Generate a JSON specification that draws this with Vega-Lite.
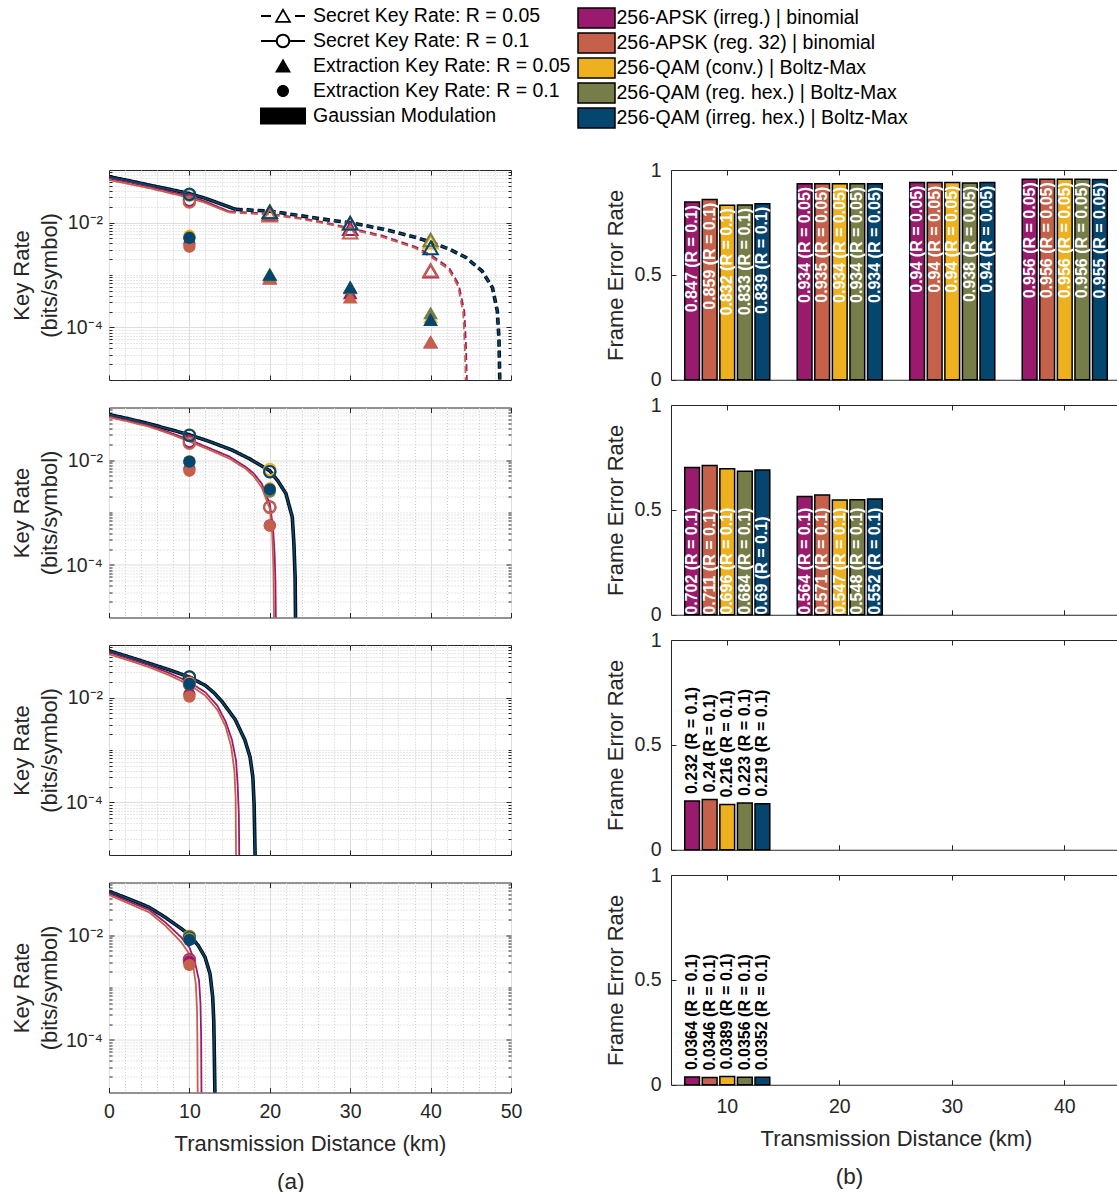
{
  "$schema": "https://vega.github.io/schema/vega-lite/v6.json",
  "background": "white",
  "padding": {"left": 9, "top": 5, "right": 0, "bottom": 0},
  "config": {
    "font": "Liberation Sans",
    "view": {"stroke": "#262626", "strokeWidth": 1},
    "axis": {"domain": false, "grid": false, "labelFont": "Liberation Sans", "labelFontSize": 19.5, "labelColor": "#262626", "titleFont": "Liberation Sans", "titleFontSize": 22, "titleFontWeight": "normal", "titleColor": "#262626", "tickColor": "#262626", "labelFlush": false, "labelOverlap": false},
    "legend": {"labelFont": "Liberation Sans", "labelFontSize": 19.5, "labelColor": "#000000", "labelLimit": 0, "padding": 0},
    "title": {"font": "Liberation Sans", "fontSize": 22.5, "fontWeight": "normal", "color": "#262626"}
  },
  "datasets": {
    "curves": [
      {"p":1,"m":"256-APSK (irreg.) | binomial","s":"solid","d":0,"v":0.069},
      {"p":1,"m":"256-APSK (irreg.) | binomial","s":"solid","d":2.5,"v":0.058},
      {"p":1,"m":"256-APSK (irreg.) | binomial","s":"solid","d":5,"v":0.048},
      {"p":1,"m":"256-APSK (irreg.) | binomial","s":"solid","d":7.5,"v":0.039},
      {"p":1,"m":"256-APSK (irreg.) | binomial","s":"solid","d":10,"v":0.0316},
      {"p":1,"m":"256-APSK (irreg.) | binomial","s":"solid","d":12,"v":0.0252},
      {"p":1,"m":"256-APSK (irreg.) | binomial","s":"solid","d":14.9,"v":0.0163},
      {"p":1,"m":"256-APSK (irreg.) | binomial","s":"dashed","d":14.9,"v":0.0163},
      {"p":1,"m":"256-APSK (irreg.) | binomial","s":"dashed","d":17.5,"v":0.0155},
      {"p":1,"m":"256-APSK (irreg.) | binomial","s":"dashed","d":20,"v":0.0147},
      {"p":1,"m":"256-APSK (irreg.) | binomial","s":"dashed","d":23.6,"v":0.0123},
      {"p":1,"m":"256-APSK (irreg.) | binomial","s":"dashed","d":27,"v":0.0099},
      {"p":1,"m":"256-APSK (irreg.) | binomial","s":"dashed","d":30.1,"v":0.00778},
      {"p":1,"m":"256-APSK (irreg.) | binomial","s":"dashed","d":34,"v":0.00562},
      {"p":1,"m":"256-APSK (irreg.) | binomial","s":"dashed","d":38.1,"v":0.00345},
      {"p":1,"m":"256-APSK (irreg.) | binomial","s":"dashed","d":40.2,"v":0.00232},
      {"p":1,"m":"256-APSK (irreg.) | binomial","s":"dashed","d":42.3,"v":0.00138},
      {"p":1,"m":"256-APSK (irreg.) | binomial","s":"dashed","d":43.5,"v":0.00066},
      {"p":1,"m":"256-APSK (irreg.) | binomial","s":"dashed","d":44.2,"v":0.000203},
      {"p":1,"m":"256-APSK (irreg.) | binomial","s":"dashed","d":44.4,"v":0.000047},
      {"p":1,"m":"256-APSK (irreg.) | binomial","s":"dashed","d":44.5,"v":0.0000123},
      {"p":1,"m":"256-APSK (irreg.) | binomial","s":"dashed","d":44.55,"v":0.000001},
      {"p":1,"m":"256-APSK (reg. 32) | binomial","s":"solid","d":0,"v":0.0643},
      {"p":1,"m":"256-APSK (reg. 32) | binomial","s":"solid","d":2.5,"v":0.054},
      {"p":1,"m":"256-APSK (reg. 32) | binomial","s":"solid","d":5,"v":0.045},
      {"p":1,"m":"256-APSK (reg. 32) | binomial","s":"solid","d":7.5,"v":0.0365},
      {"p":1,"m":"256-APSK (reg. 32) | binomial","s":"solid","d":10,"v":0.0294},
      {"p":1,"m":"256-APSK (reg. 32) | binomial","s":"solid","d":12,"v":0.0236},
      {"p":1,"m":"256-APSK (reg. 32) | binomial","s":"solid","d":14.9,"v":0.0156},
      {"p":1,"m":"256-APSK (reg. 32) | binomial","s":"dashed","d":14.9,"v":0.0156},
      {"p":1,"m":"256-APSK (reg. 32) | binomial","s":"dashed","d":17.5,"v":0.0148},
      {"p":1,"m":"256-APSK (reg. 32) | binomial","s":"dashed","d":20,"v":0.0141},
      {"p":1,"m":"256-APSK (reg. 32) | binomial","s":"dashed","d":23.6,"v":0.0118},
      {"p":1,"m":"256-APSK (reg. 32) | binomial","s":"dashed","d":27,"v":0.0095},
      {"p":1,"m":"256-APSK (reg. 32) | binomial","s":"dashed","d":30.1,"v":0.0074},
      {"p":1,"m":"256-APSK (reg. 32) | binomial","s":"dashed","d":34,"v":0.0053},
      {"p":1,"m":"256-APSK (reg. 32) | binomial","s":"dashed","d":38.1,"v":0.00325},
      {"p":1,"m":"256-APSK (reg. 32) | binomial","s":"dashed","d":40.1,"v":0.00218},
      {"p":1,"m":"256-APSK (reg. 32) | binomial","s":"dashed","d":42.2,"v":0.0013},
      {"p":1,"m":"256-APSK (reg. 32) | binomial","s":"dashed","d":43.4,"v":0.00062},
      {"p":1,"m":"256-APSK (reg. 32) | binomial","s":"dashed","d":44.05,"v":0.00019},
      {"p":1,"m":"256-APSK (reg. 32) | binomial","s":"dashed","d":44.25,"v":0.000045},
      {"p":1,"m":"256-APSK (reg. 32) | binomial","s":"dashed","d":44.35,"v":0.000012},
      {"p":1,"m":"256-APSK (reg. 32) | binomial","s":"dashed","d":44.4,"v":0.000001},
      {"p":1,"m":"256-QAM (irreg. hex.) | Boltz-Max","s":"solid","d":0,"v":0.0745},
      {"p":1,"m":"256-QAM (irreg. hex.) | Boltz-Max","s":"solid","d":2.5,"v":0.0625},
      {"p":1,"m":"256-QAM (irreg. hex.) | Boltz-Max","s":"solid","d":5,"v":0.0515},
      {"p":1,"m":"256-QAM (irreg. hex.) | Boltz-Max","s":"solid","d":7.5,"v":0.043},
      {"p":1,"m":"256-QAM (irreg. hex.) | Boltz-Max","s":"solid","d":10,"v":0.0355},
      {"p":1,"m":"256-QAM (irreg. hex.) | Boltz-Max","s":"solid","d":12,"v":0.0288},
      {"p":1,"m":"256-QAM (irreg. hex.) | Boltz-Max","s":"solid","d":14,"v":0.0223},
      {"p":1,"m":"256-QAM (irreg. hex.) | Boltz-Max","s":"solid","d":15.75,"v":0.0178},
      {"p":1,"m":"256-QAM (irreg. hex.) | Boltz-Max","s":"dashed","d":15.75,"v":0.0178},
      {"p":1,"m":"256-QAM (irreg. hex.) | Boltz-Max","s":"dashed","d":20,"v":0.0165},
      {"p":1,"m":"256-QAM (irreg. hex.) | Boltz-Max","s":"dashed","d":23.6,"v":0.0136},
      {"p":1,"m":"256-QAM (irreg. hex.) | Boltz-Max","s":"dashed","d":27.8,"v":0.0109},
      {"p":1,"m":"256-QAM (irreg. hex.) | Boltz-Max","s":"dashed","d":30.1,"v":0.00986},
      {"p":1,"m":"256-QAM (irreg. hex.) | Boltz-Max","s":"dashed","d":34,"v":0.00755},
      {"p":1,"m":"256-QAM (irreg. hex.) | Boltz-Max","s":"dashed","d":38.1,"v":0.00524},
      {"p":1,"m":"256-QAM (irreg. hex.) | Boltz-Max","s":"dashed","d":40.1,"v":0.00419},
      {"p":1,"m":"256-QAM (irreg. hex.) | Boltz-Max","s":"dashed","d":42.3,"v":0.00312},
      {"p":1,"m":"256-QAM (irreg. hex.) | Boltz-Max","s":"dashed","d":44.4,"v":0.00216},
      {"p":1,"m":"256-QAM (irreg. hex.) | Boltz-Max","s":"dashed","d":46.4,"v":0.00119},
      {"p":1,"m":"256-QAM (irreg. hex.) | Boltz-Max","s":"dashed","d":47.7,"v":0.00057},
      {"p":1,"m":"256-QAM (irreg. hex.) | Boltz-Max","s":"dashed","d":48.3,"v":0.000204},
      {"p":1,"m":"256-QAM (irreg. hex.) | Boltz-Max","s":"dashed","d":48.5,"v":0.000062},
      {"p":1,"m":"256-QAM (irreg. hex.) | Boltz-Max","s":"dashed","d":48.6,"v":0.0000107},
      {"p":1,"m":"256-QAM (irreg. hex.) | Boltz-Max","s":"dashed","d":48.65,"v":0.000001},
      {"p":1,"m":"Gaussian Modulation","s":"solid","d":0,"v":0.0745},
      {"p":1,"m":"Gaussian Modulation","s":"solid","d":2.5,"v":0.0625},
      {"p":1,"m":"Gaussian Modulation","s":"solid","d":5,"v":0.0515},
      {"p":1,"m":"Gaussian Modulation","s":"solid","d":7.5,"v":0.043},
      {"p":1,"m":"Gaussian Modulation","s":"solid","d":10,"v":0.0355},
      {"p":1,"m":"Gaussian Modulation","s":"solid","d":12,"v":0.0288},
      {"p":1,"m":"Gaussian Modulation","s":"solid","d":14,"v":0.0223},
      {"p":1,"m":"Gaussian Modulation","s":"solid","d":15.75,"v":0.0178},
      {"p":1,"m":"Gaussian Modulation","s":"dashed","d":15.75,"v":0.0178},
      {"p":1,"m":"Gaussian Modulation","s":"dashed","d":20,"v":0.0165},
      {"p":1,"m":"Gaussian Modulation","s":"dashed","d":23.6,"v":0.0136},
      {"p":1,"m":"Gaussian Modulation","s":"dashed","d":27.8,"v":0.0109},
      {"p":1,"m":"Gaussian Modulation","s":"dashed","d":30.1,"v":0.00986},
      {"p":1,"m":"Gaussian Modulation","s":"dashed","d":34,"v":0.00755},
      {"p":1,"m":"Gaussian Modulation","s":"dashed","d":38.1,"v":0.00524},
      {"p":1,"m":"Gaussian Modulation","s":"dashed","d":40.1,"v":0.00419},
      {"p":1,"m":"Gaussian Modulation","s":"dashed","d":42.3,"v":0.00312},
      {"p":1,"m":"Gaussian Modulation","s":"dashed","d":44.4,"v":0.00216},
      {"p":1,"m":"Gaussian Modulation","s":"dashed","d":46.4,"v":0.00119},
      {"p":1,"m":"Gaussian Modulation","s":"dashed","d":47.7,"v":0.00057},
      {"p":1,"m":"Gaussian Modulation","s":"dashed","d":48.3,"v":0.000204},
      {"p":1,"m":"Gaussian Modulation","s":"dashed","d":48.5,"v":0.000062},
      {"p":1,"m":"Gaussian Modulation","s":"dashed","d":48.6,"v":0.0000107},
      {"p":1,"m":"Gaussian Modulation","s":"dashed","d":48.65,"v":0.000001},

      {"p":2,"m":"256-APSK (irreg.) | binomial","s":"solid","d":0,"v":0.068},
      {"p":2,"m":"256-APSK (irreg.) | binomial","s":"solid","d":2.5,"v":0.056},
      {"p":2,"m":"256-APSK (irreg.) | binomial","s":"solid","d":5,"v":0.045},
      {"p":2,"m":"256-APSK (irreg.) | binomial","s":"solid","d":7.5,"v":0.0336},
      {"p":2,"m":"256-APSK (irreg.) | binomial","s":"solid","d":10,"v":0.0243},
      {"p":2,"m":"256-APSK (irreg.) | binomial","s":"solid","d":12.5,"v":0.0168},
      {"p":2,"m":"256-APSK (irreg.) | binomial","s":"solid","d":15,"v":0.0116},
      {"p":2,"m":"256-APSK (irreg.) | binomial","s":"solid","d":17,"v":0.0074},
      {"p":2,"m":"256-APSK (irreg.) | binomial","s":"solid","d":18,"v":0.00555},
      {"p":2,"m":"256-APSK (irreg.) | binomial","s":"solid","d":19,"v":0.00356},
      {"p":2,"m":"256-APSK (irreg.) | binomial","s":"solid","d":20,"v":0.00147},
      {"p":2,"m":"256-APSK (irreg.) | binomial","s":"solid","d":20.4,"v":0.00052},
      {"p":2,"m":"256-APSK (irreg.) | binomial","s":"solid","d":20.6,"v":0.00016},
      {"p":2,"m":"256-APSK (irreg.) | binomial","s":"solid","d":20.7,"v":0.000049},
      {"p":2,"m":"256-APSK (irreg.) | binomial","s":"solid","d":20.75,"v":0.00001},
      {"p":2,"m":"256-APSK (irreg.) | binomial","s":"solid","d":20.77,"v":0.000001},
      {"p":2,"m":"256-APSK (reg. 32) | binomial","s":"solid","d":0,"v":0.065},
      {"p":2,"m":"256-APSK (reg. 32) | binomial","s":"solid","d":2.5,"v":0.0535},
      {"p":2,"m":"256-APSK (reg. 32) | binomial","s":"solid","d":5,"v":0.043},
      {"p":2,"m":"256-APSK (reg. 32) | binomial","s":"solid","d":7.5,"v":0.0318},
      {"p":2,"m":"256-APSK (reg. 32) | binomial","s":"solid","d":10,"v":0.0225},
      {"p":2,"m":"256-APSK (reg. 32) | binomial","s":"solid","d":12.5,"v":0.0156},
      {"p":2,"m":"256-APSK (reg. 32) | binomial","s":"solid","d":15,"v":0.0106},
      {"p":2,"m":"256-APSK (reg. 32) | binomial","s":"solid","d":17,"v":0.0068},
      {"p":2,"m":"256-APSK (reg. 32) | binomial","s":"solid","d":18,"v":0.0049},
      {"p":2,"m":"256-APSK (reg. 32) | binomial","s":"solid","d":19,"v":0.003},
      {"p":2,"m":"256-APSK (reg. 32) | binomial","s":"solid","d":20,"v":0.00118},
      {"p":2,"m":"256-APSK (reg. 32) | binomial","s":"solid","d":20.3,"v":0.00039},
      {"p":2,"m":"256-APSK (reg. 32) | binomial","s":"solid","d":20.45,"v":0.000089},
      {"p":2,"m":"256-APSK (reg. 32) | binomial","s":"solid","d":20.52,"v":0.00001},
      {"p":2,"m":"256-APSK (reg. 32) | binomial","s":"solid","d":20.54,"v":0.000001},
      {"p":2,"m":"256-QAM (irreg. hex.) | Boltz-Max","s":"solid","d":0,"v":0.0733},
      {"p":2,"m":"256-QAM (irreg. hex.) | Boltz-Max","s":"solid","d":2.5,"v":0.0607},
      {"p":2,"m":"256-QAM (irreg. hex.) | Boltz-Max","s":"solid","d":5,"v":0.049},
      {"p":2,"m":"256-QAM (irreg. hex.) | Boltz-Max","s":"solid","d":7.5,"v":0.0385},
      {"p":2,"m":"256-QAM (irreg. hex.) | Boltz-Max","s":"solid","d":10,"v":0.0302},
      {"p":2,"m":"256-QAM (irreg. hex.) | Boltz-Max","s":"solid","d":12.5,"v":0.0225},
      {"p":2,"m":"256-QAM (irreg. hex.) | Boltz-Max","s":"solid","d":15.3,"v":0.0155},
      {"p":2,"m":"256-QAM (irreg. hex.) | Boltz-Max","s":"solid","d":17.5,"v":0.0105},
      {"p":2,"m":"256-QAM (irreg. hex.) | Boltz-Max","s":"solid","d":20,"v":0.00624},
      {"p":2,"m":"256-QAM (irreg. hex.) | Boltz-Max","s":"solid","d":21,"v":0.004},
      {"p":2,"m":"256-QAM (irreg. hex.) | Boltz-Max","s":"solid","d":22,"v":0.0023},
      {"p":2,"m":"256-QAM (irreg. hex.) | Boltz-Max","s":"solid","d":22.8,"v":0.00081},
      {"p":2,"m":"256-QAM (irreg. hex.) | Boltz-Max","s":"solid","d":23,"v":0.00025},
      {"p":2,"m":"256-QAM (irreg. hex.) | Boltz-Max","s":"solid","d":23.15,"v":0.000058},
      {"p":2,"m":"256-QAM (irreg. hex.) | Boltz-Max","s":"solid","d":23.2,"v":0.00001},
      {"p":2,"m":"256-QAM (irreg. hex.) | Boltz-Max","s":"solid","d":23.22,"v":0.000001},
      {"p":2,"m":"Gaussian Modulation","s":"solid","d":0,"v":0.0733},
      {"p":2,"m":"Gaussian Modulation","s":"solid","d":2.5,"v":0.0607},
      {"p":2,"m":"Gaussian Modulation","s":"solid","d":5,"v":0.049},
      {"p":2,"m":"Gaussian Modulation","s":"solid","d":7.5,"v":0.0385},
      {"p":2,"m":"Gaussian Modulation","s":"solid","d":10,"v":0.0302},
      {"p":2,"m":"Gaussian Modulation","s":"solid","d":12.5,"v":0.0225},
      {"p":2,"m":"Gaussian Modulation","s":"solid","d":15.3,"v":0.0155},
      {"p":2,"m":"Gaussian Modulation","s":"solid","d":17.5,"v":0.0105},
      {"p":2,"m":"Gaussian Modulation","s":"solid","d":20,"v":0.00624},
      {"p":2,"m":"Gaussian Modulation","s":"solid","d":21,"v":0.004},
      {"p":2,"m":"Gaussian Modulation","s":"solid","d":22,"v":0.0023},
      {"p":2,"m":"Gaussian Modulation","s":"solid","d":22.8,"v":0.00081},
      {"p":2,"m":"Gaussian Modulation","s":"solid","d":23,"v":0.00025},
      {"p":2,"m":"Gaussian Modulation","s":"solid","d":23.15,"v":0.000058},
      {"p":2,"m":"Gaussian Modulation","s":"solid","d":23.2,"v":0.00001},
      {"p":2,"m":"Gaussian Modulation","s":"solid","d":23.22,"v":0.000001},

      {"p":3,"m":"256-APSK (irreg.) | binomial","s":"solid","d":0,"v":0.072},
      {"p":3,"m":"256-APSK (irreg.) | binomial","s":"solid","d":2.5,"v":0.0545},
      {"p":3,"m":"256-APSK (irreg.) | binomial","s":"solid","d":5,"v":0.041},
      {"p":3,"m":"256-APSK (irreg.) | binomial","s":"solid","d":7.5,"v":0.0292},
      {"p":3,"m":"256-APSK (irreg.) | binomial","s":"solid","d":10,"v":0.0196},
      {"p":3,"m":"256-APSK (irreg.) | binomial","s":"solid","d":12,"v":0.0125},
      {"p":3,"m":"256-APSK (irreg.) | binomial","s":"solid","d":13.5,"v":0.0069},
      {"p":3,"m":"256-APSK (irreg.) | binomial","s":"solid","d":14.5,"v":0.0035},
      {"p":3,"m":"256-APSK (irreg.) | binomial","s":"solid","d":15.3,"v":0.00155},
      {"p":3,"m":"256-APSK (irreg.) | binomial","s":"solid","d":15.8,"v":0.00063},
      {"p":3,"m":"256-APSK (irreg.) | binomial","s":"solid","d":16,"v":0.00022},
      {"p":3,"m":"256-APSK (irreg.) | binomial","s":"solid","d":16.15,"v":0.000058},
      {"p":3,"m":"256-APSK (irreg.) | binomial","s":"solid","d":16.2,"v":0.00001},
      {"p":3,"m":"256-APSK (irreg.) | binomial","s":"solid","d":16.22,"v":0.000001},
      {"p":3,"m":"256-APSK (reg. 32) | binomial","s":"solid","d":0,"v":0.0668},
      {"p":3,"m":"256-APSK (reg. 32) | binomial","s":"solid","d":2.5,"v":0.0505},
      {"p":3,"m":"256-APSK (reg. 32) | binomial","s":"solid","d":5,"v":0.0378},
      {"p":3,"m":"256-APSK (reg. 32) | binomial","s":"solid","d":7.5,"v":0.0265},
      {"p":3,"m":"256-APSK (reg. 32) | binomial","s":"solid","d":10,"v":0.0174},
      {"p":3,"m":"256-APSK (reg. 32) | binomial","s":"solid","d":12,"v":0.0108},
      {"p":3,"m":"256-APSK (reg. 32) | binomial","s":"solid","d":13.5,"v":0.00575},
      {"p":3,"m":"256-APSK (reg. 32) | binomial","s":"solid","d":14.5,"v":0.0028},
      {"p":3,"m":"256-APSK (reg. 32) | binomial","s":"solid","d":15.2,"v":0.00115},
      {"p":3,"m":"256-APSK (reg. 32) | binomial","s":"solid","d":15.6,"v":0.0004},
      {"p":3,"m":"256-APSK (reg. 32) | binomial","s":"solid","d":15.75,"v":0.00012},
      {"p":3,"m":"256-APSK (reg. 32) | binomial","s":"solid","d":15.8,"v":0.00001},
      {"p":3,"m":"256-APSK (reg. 32) | binomial","s":"solid","d":15.82,"v":0.000001},
      {"p":3,"m":"256-QAM (irreg. hex.) | Boltz-Max","s":"solid","d":0,"v":0.0777},
      {"p":3,"m":"256-QAM (irreg. hex.) | Boltz-Max","s":"solid","d":2.5,"v":0.0593},
      {"p":3,"m":"256-QAM (irreg. hex.) | Boltz-Max","s":"solid","d":5,"v":0.0447},
      {"p":3,"m":"256-QAM (irreg. hex.) | Boltz-Max","s":"solid","d":7.5,"v":0.0336},
      {"p":3,"m":"256-QAM (irreg. hex.) | Boltz-Max","s":"solid","d":10,"v":0.0245},
      {"p":3,"m":"256-QAM (irreg. hex.) | Boltz-Max","s":"solid","d":12,"v":0.0169},
      {"p":3,"m":"256-QAM (irreg. hex.) | Boltz-Max","s":"solid","d":13,"v":0.0125},
      {"p":3,"m":"256-QAM (irreg. hex.) | Boltz-Max","s":"solid","d":14,"v":0.0086},
      {"p":3,"m":"256-QAM (irreg. hex.) | Boltz-Max","s":"solid","d":15.7,"v":0.0038},
      {"p":3,"m":"256-QAM (irreg. hex.) | Boltz-Max","s":"solid","d":16.9,"v":0.00155},
      {"p":3,"m":"256-QAM (irreg. hex.) | Boltz-Max","s":"solid","d":17.55,"v":0.00073},
      {"p":3,"m":"256-QAM (irreg. hex.) | Boltz-Max","s":"solid","d":17.9,"v":0.000296},
      {"p":3,"m":"256-QAM (irreg. hex.) | Boltz-Max","s":"solid","d":18.05,"v":0.000089},
      {"p":3,"m":"256-QAM (irreg. hex.) | Boltz-Max","s":"solid","d":18.17,"v":0.00001},
      {"p":3,"m":"256-QAM (irreg. hex.) | Boltz-Max","s":"solid","d":18.2,"v":0.000001},
      {"p":3,"m":"Gaussian Modulation","s":"solid","d":0,"v":0.0777},
      {"p":3,"m":"Gaussian Modulation","s":"solid","d":2.5,"v":0.0593},
      {"p":3,"m":"Gaussian Modulation","s":"solid","d":5,"v":0.0447},
      {"p":3,"m":"Gaussian Modulation","s":"solid","d":7.5,"v":0.0336},
      {"p":3,"m":"Gaussian Modulation","s":"solid","d":10,"v":0.0245},
      {"p":3,"m":"Gaussian Modulation","s":"solid","d":12,"v":0.0169},
      {"p":3,"m":"Gaussian Modulation","s":"solid","d":13,"v":0.0125},
      {"p":3,"m":"Gaussian Modulation","s":"solid","d":14,"v":0.0086},
      {"p":3,"m":"Gaussian Modulation","s":"solid","d":15.7,"v":0.0038},
      {"p":3,"m":"Gaussian Modulation","s":"solid","d":16.9,"v":0.00155},
      {"p":3,"m":"Gaussian Modulation","s":"solid","d":17.55,"v":0.00073},
      {"p":3,"m":"Gaussian Modulation","s":"solid","d":17.9,"v":0.000296},
      {"p":3,"m":"Gaussian Modulation","s":"solid","d":18.05,"v":0.000089},
      {"p":3,"m":"Gaussian Modulation","s":"solid","d":18.17,"v":0.00001},
      {"p":3,"m":"Gaussian Modulation","s":"solid","d":18.2,"v":0.000001},

      {"p":4,"m":"256-APSK (irreg.) | binomial","s":"solid","d":0,"v":0.0622},
      {"p":4,"m":"256-APSK (irreg.) | binomial","s":"solid","d":2.5,"v":0.0431},
      {"p":4,"m":"256-APSK (irreg.) | binomial","s":"solid","d":5,"v":0.03},
      {"p":4,"m":"256-APSK (irreg.) | binomial","s":"solid","d":7,"v":0.0174},
      {"p":4,"m":"256-APSK (irreg.) | binomial","s":"solid","d":9,"v":0.009},
      {"p":4,"m":"256-APSK (irreg.) | binomial","s":"solid","d":10,"v":0.00582},
      {"p":4,"m":"256-APSK (irreg.) | binomial","s":"solid","d":10.7,"v":0.003},
      {"p":4,"m":"256-APSK (irreg.) | binomial","s":"solid","d":11.2,"v":0.00135},
      {"p":4,"m":"256-APSK (irreg.) | binomial","s":"solid","d":11.38,"v":0.00049},
      {"p":4,"m":"256-APSK (irreg.) | binomial","s":"solid","d":11.46,"v":0.000113},
      {"p":4,"m":"256-APSK (irreg.) | binomial","s":"solid","d":11.5,"v":0.00001},
      {"p":4,"m":"256-APSK (irreg.) | binomial","s":"solid","d":11.52,"v":0.000001},
      {"p":4,"m":"256-APSK (reg. 32) | binomial","s":"solid","d":0,"v":0.0578},
      {"p":4,"m":"256-APSK (reg. 32) | binomial","s":"solid","d":2.5,"v":0.0396},
      {"p":4,"m":"256-APSK (reg. 32) | binomial","s":"solid","d":5,"v":0.027},
      {"p":4,"m":"256-APSK (reg. 32) | binomial","s":"solid","d":7,"v":0.0151},
      {"p":4,"m":"256-APSK (reg. 32) | binomial","s":"solid","d":9,"v":0.00725},
      {"p":4,"m":"256-APSK (reg. 32) | binomial","s":"solid","d":10,"v":0.00434},
      {"p":4,"m":"256-APSK (reg. 32) | binomial","s":"solid","d":10.5,"v":0.00242},
      {"p":4,"m":"256-APSK (reg. 32) | binomial","s":"solid","d":10.8,"v":0.00116},
      {"p":4,"m":"256-APSK (reg. 32) | binomial","s":"solid","d":10.95,"v":0.00036},
      {"p":4,"m":"256-APSK (reg. 32) | binomial","s":"solid","d":11,"v":0.000084},
      {"p":4,"m":"256-APSK (reg. 32) | binomial","s":"solid","d":11.03,"v":0.00001},
      {"p":4,"m":"256-APSK (reg. 32) | binomial","s":"solid","d":11.05,"v":0.000001},
      {"p":4,"m":"256-QAM (irreg. hex.) | Boltz-Max","s":"solid","d":0,"v":0.068},
      {"p":4,"m":"256-QAM (irreg. hex.) | Boltz-Max","s":"solid","d":2.5,"v":0.0485},
      {"p":4,"m":"256-QAM (irreg. hex.) | Boltz-Max","s":"solid","d":5,"v":0.0337},
      {"p":4,"m":"256-QAM (irreg. hex.) | Boltz-Max","s":"solid","d":7,"v":0.0217},
      {"p":4,"m":"256-QAM (irreg. hex.) | Boltz-Max","s":"solid","d":9.05,"v":0.013},
      {"p":4,"m":"256-QAM (irreg. hex.) | Boltz-Max","s":"solid","d":10,"v":0.0101},
      {"p":4,"m":"256-QAM (irreg. hex.) | Boltz-Max","s":"solid","d":11.1,"v":0.0063},
      {"p":4,"m":"256-QAM (irreg. hex.) | Boltz-Max","s":"solid","d":11.95,"v":0.00376},
      {"p":4,"m":"256-QAM (irreg. hex.) | Boltz-Max","s":"solid","d":12.57,"v":0.00181},
      {"p":4,"m":"256-QAM (irreg. hex.) | Boltz-Max","s":"solid","d":12.9,"v":0.00065},
      {"p":4,"m":"256-QAM (irreg. hex.) | Boltz-Max","s":"solid","d":13.03,"v":0.00023},
      {"p":4,"m":"256-QAM (irreg. hex.) | Boltz-Max","s":"solid","d":13.1,"v":0.000054},
      {"p":4,"m":"256-QAM (irreg. hex.) | Boltz-Max","s":"solid","d":13.17,"v":0.00001},
      {"p":4,"m":"256-QAM (irreg. hex.) | Boltz-Max","s":"solid","d":13.2,"v":0.000001},
      {"p":4,"m":"Gaussian Modulation","s":"solid","d":0,"v":0.068},
      {"p":4,"m":"Gaussian Modulation","s":"solid","d":2.5,"v":0.0485},
      {"p":4,"m":"Gaussian Modulation","s":"solid","d":5,"v":0.0337},
      {"p":4,"m":"Gaussian Modulation","s":"solid","d":7,"v":0.0217},
      {"p":4,"m":"Gaussian Modulation","s":"solid","d":9.05,"v":0.013},
      {"p":4,"m":"Gaussian Modulation","s":"solid","d":10,"v":0.0101},
      {"p":4,"m":"Gaussian Modulation","s":"solid","d":11.1,"v":0.0063},
      {"p":4,"m":"Gaussian Modulation","s":"solid","d":11.95,"v":0.00376},
      {"p":4,"m":"Gaussian Modulation","s":"solid","d":12.57,"v":0.00181},
      {"p":4,"m":"Gaussian Modulation","s":"solid","d":12.9,"v":0.00065},
      {"p":4,"m":"Gaussian Modulation","s":"solid","d":13.03,"v":0.00023},
      {"p":4,"m":"Gaussian Modulation","s":"solid","d":13.1,"v":0.000054},
      {"p":4,"m":"Gaussian Modulation","s":"solid","d":13.17,"v":0.00001},
      {"p":4,"m":"Gaussian Modulation","s":"solid","d":13.2,"v":0.000001}
    ],
    "pts": [
      {"p":1,"m":"256-APSK (irreg.) | binomial","t":"Secret Key Rate: R = 0.1","d":10,"v":0.0265},
      {"p":1,"m":"256-APSK (reg. 32) | binomial","t":"Secret Key Rate: R = 0.1","d":10,"v":0.0246},
      {"p":1,"m":"256-QAM (conv.) | Boltz-Max","t":"Secret Key Rate: R = 0.1","d":10,"v":0.034},
      {"p":1,"m":"256-QAM (reg. hex.) | Boltz-Max","t":"Secret Key Rate: R = 0.1","d":10,"v":0.0335},
      {"p":1,"m":"256-QAM (irreg. hex.) | Boltz-Max","t":"Secret Key Rate: R = 0.1","d":10,"v":0.0345},
      {"p":1,"m":"256-APSK (irreg.) | binomial","t":"Secret Key Rate: R = 0.05","d":20,"v":0.0145},
      {"p":1,"m":"256-APSK (reg. 32) | binomial","t":"Secret Key Rate: R = 0.05","d":20,"v":0.0138},
      {"p":1,"m":"256-QAM (conv.) | Boltz-Max","t":"Secret Key Rate: R = 0.05","d":20,"v":0.0162},
      {"p":1,"m":"256-QAM (reg. hex.) | Boltz-Max","t":"Secret Key Rate: R = 0.05","d":20,"v":0.016},
      {"p":1,"m":"256-QAM (irreg. hex.) | Boltz-Max","t":"Secret Key Rate: R = 0.05","d":20,"v":0.0158},
      {"p":1,"m":"256-APSK (irreg.) | binomial","t":"Secret Key Rate: R = 0.05","d":30,"v":0.0076},
      {"p":1,"m":"256-APSK (reg. 32) | binomial","t":"Secret Key Rate: R = 0.05","d":30,"v":0.0065},
      {"p":1,"m":"256-QAM (conv.) | Boltz-Max","t":"Secret Key Rate: R = 0.05","d":30,"v":0.0098},
      {"p":1,"m":"256-QAM (reg. hex.) | Boltz-Max","t":"Secret Key Rate: R = 0.05","d":30,"v":0.0097},
      {"p":1,"m":"256-QAM (irreg. hex.) | Boltz-Max","t":"Secret Key Rate: R = 0.05","d":30,"v":0.0097},
      {"p":1,"m":"256-APSK (irreg.) | binomial","t":"Secret Key Rate: R = 0.05","d":40,"v":0.00118},
      {"p":1,"m":"256-APSK (reg. 32) | binomial","t":"Secret Key Rate: R = 0.05","d":40,"v":0.00123},
      {"p":1,"m":"256-QAM (conv.) | Boltz-Max","t":"Secret Key Rate: R = 0.05","d":40,"v":0.0042},
      {"p":1,"m":"256-QAM (reg. hex.) | Boltz-Max","t":"Secret Key Rate: R = 0.05","d":40,"v":0.00464},
      {"p":1,"m":"256-QAM (irreg. hex.) | Boltz-Max","t":"Secret Key Rate: R = 0.05","d":40,"v":0.00326},
      {"p":1,"m":"256-APSK (irreg.) | binomial","t":"Extraction Key Rate: R = 0.1","d":10,"v":0.0039},
      {"p":1,"m":"256-APSK (reg. 32) | binomial","t":"Extraction Key Rate: R = 0.1","d":10,"v":0.00345},
      {"p":1,"m":"256-QAM (conv.) | Boltz-Max","t":"Extraction Key Rate: R = 0.1","d":10,"v":0.0056},
      {"p":1,"m":"256-QAM (reg. hex.) | Boltz-Max","t":"Extraction Key Rate: R = 0.1","d":10,"v":0.0052},
      {"p":1,"m":"256-QAM (irreg. hex.) | Boltz-Max","t":"Extraction Key Rate: R = 0.1","d":10,"v":0.00507},
      {"p":1,"m":"256-APSK (irreg.) | binomial","t":"Extraction Key Rate: R = 0.05","d":20,"v":0.00088},
      {"p":1,"m":"256-APSK (reg. 32) | binomial","t":"Extraction Key Rate: R = 0.05","d":20,"v":0.00086},
      {"p":1,"m":"256-QAM (conv.) | Boltz-Max","t":"Extraction Key Rate: R = 0.05","d":20,"v":0.00105},
      {"p":1,"m":"256-QAM (reg. hex.) | Boltz-Max","t":"Extraction Key Rate: R = 0.05","d":20,"v":0.001},
      {"p":1,"m":"256-QAM (irreg. hex.) | Boltz-Max","t":"Extraction Key Rate: R = 0.05","d":20,"v":0.00103},
      {"p":1,"m":"256-APSK (irreg.) | binomial","t":"Extraction Key Rate: R = 0.05","d":30,"v":0.00046},
      {"p":1,"m":"256-APSK (reg. 32) | binomial","t":"Extraction Key Rate: R = 0.05","d":30,"v":0.00038},
      {"p":1,"m":"256-QAM (conv.) | Boltz-Max","t":"Extraction Key Rate: R = 0.05","d":30,"v":0.00059},
      {"p":1,"m":"256-QAM (reg. hex.) | Boltz-Max","t":"Extraction Key Rate: R = 0.05","d":30,"v":0.00057},
      {"p":1,"m":"256-QAM (irreg. hex.) | Boltz-Max","t":"Extraction Key Rate: R = 0.05","d":30,"v":0.00059},
      {"p":1,"m":"256-APSK (irreg.) | binomial","t":"Extraction Key Rate: R = 0.05","d":40,"v":0.000053},
      {"p":1,"m":"256-APSK (reg. 32) | binomial","t":"Extraction Key Rate: R = 0.05","d":40,"v":0.000054},
      {"p":1,"m":"256-QAM (conv.) | Boltz-Max","t":"Extraction Key Rate: R = 0.05","d":40,"v":0.00016},
      {"p":1,"m":"256-QAM (reg. hex.) | Boltz-Max","t":"Extraction Key Rate: R = 0.05","d":40,"v":0.00019},
      {"p":1,"m":"256-QAM (irreg. hex.) | Boltz-Max","t":"Extraction Key Rate: R = 0.05","d":40,"v":0.000142},

      {"p":2,"m":"256-APSK (irreg.) | binomial","t":"Secret Key Rate: R = 0.1","d":10,"v":0.0225},
      {"p":2,"m":"256-APSK (reg. 32) | binomial","t":"Secret Key Rate: R = 0.1","d":10,"v":0.0209},
      {"p":2,"m":"256-QAM (conv.) | Boltz-Max","t":"Secret Key Rate: R = 0.1","d":10,"v":0.0298},
      {"p":2,"m":"256-QAM (reg. hex.) | Boltz-Max","t":"Secret Key Rate: R = 0.1","d":10,"v":0.0296},
      {"p":2,"m":"256-QAM (irreg. hex.) | Boltz-Max","t":"Secret Key Rate: R = 0.1","d":10,"v":0.0294},
      {"p":2,"m":"256-APSK (irreg.) | binomial","t":"Secret Key Rate: R = 0.1","d":20,"v":0.00127},
      {"p":2,"m":"256-APSK (reg. 32) | binomial","t":"Secret Key Rate: R = 0.1","d":20,"v":0.00125},
      {"p":2,"m":"256-QAM (conv.) | Boltz-Max","t":"Secret Key Rate: R = 0.1","d":20,"v":0.0066},
      {"p":2,"m":"256-QAM (reg. hex.) | Boltz-Max","t":"Secret Key Rate: R = 0.1","d":20,"v":0.006},
      {"p":2,"m":"256-QAM (irreg. hex.) | Boltz-Max","t":"Secret Key Rate: R = 0.1","d":20,"v":0.00597},
      {"p":2,"m":"256-APSK (irreg.) | binomial","t":"Extraction Key Rate: R = 0.1","d":10,"v":0.0068},
      {"p":2,"m":"256-APSK (reg. 32) | binomial","t":"Extraction Key Rate: R = 0.1","d":10,"v":0.00624},
      {"p":2,"m":"256-QAM (conv.) | Boltz-Max","t":"Extraction Key Rate: R = 0.1","d":10,"v":0.0095},
      {"p":2,"m":"256-QAM (reg. hex.) | Boltz-Max","t":"Extraction Key Rate: R = 0.1","d":10,"v":0.0092},
      {"p":2,"m":"256-QAM (irreg. hex.) | Boltz-Max","t":"Extraction Key Rate: R = 0.1","d":10,"v":0.0093},
      {"p":2,"m":"256-APSK (irreg.) | binomial","t":"Extraction Key Rate: R = 0.1","d":20,"v":0.00057},
      {"p":2,"m":"256-APSK (reg. 32) | binomial","t":"Extraction Key Rate: R = 0.1","d":20,"v":0.00056},
      {"p":2,"m":"256-QAM (conv.) | Boltz-Max","t":"Extraction Key Rate: R = 0.1","d":20,"v":0.0029},
      {"p":2,"m":"256-QAM (reg. hex.) | Boltz-Max","t":"Extraction Key Rate: R = 0.1","d":20,"v":0.0025},
      {"p":2,"m":"256-QAM (irreg. hex.) | Boltz-Max","t":"Extraction Key Rate: R = 0.1","d":20,"v":0.00277},

      {"p":3,"m":"256-APSK (irreg.) | binomial","t":"Secret Key Rate: R = 0.1","d":10,"v":0.0195},
      {"p":3,"m":"256-APSK (reg. 32) | binomial","t":"Secret Key Rate: R = 0.1","d":10,"v":0.0175},
      {"p":3,"m":"256-QAM (conv.) | Boltz-Max","t":"Secret Key Rate: R = 0.1","d":10,"v":0.0245},
      {"p":3,"m":"256-QAM (reg. hex.) | Boltz-Max","t":"Secret Key Rate: R = 0.1","d":10,"v":0.0243},
      {"p":3,"m":"256-QAM (irreg. hex.) | Boltz-Max","t":"Secret Key Rate: R = 0.1","d":10,"v":0.0245},
      {"p":3,"m":"256-APSK (irreg.) | binomial","t":"Extraction Key Rate: R = 0.1","d":10,"v":0.0115},
      {"p":3,"m":"256-APSK (reg. 32) | binomial","t":"Extraction Key Rate: R = 0.1","d":10,"v":0.0104},
      {"p":3,"m":"256-QAM (conv.) | Boltz-Max","t":"Extraction Key Rate: R = 0.1","d":10,"v":0.019},
      {"p":3,"m":"256-QAM (reg. hex.) | Boltz-Max","t":"Extraction Key Rate: R = 0.1","d":10,"v":0.0182},
      {"p":3,"m":"256-QAM (irreg. hex.) | Boltz-Max","t":"Extraction Key Rate: R = 0.1","d":10,"v":0.0182},

      {"p":4,"m":"256-APSK (irreg.) | binomial","t":"Secret Key Rate: R = 0.1","d":10,"v":0.0034},
      {"p":4,"m":"256-APSK (reg. 32) | binomial","t":"Secret Key Rate: R = 0.1","d":10,"v":0.0032},
      {"p":4,"m":"256-QAM (conv.) | Boltz-Max","t":"Secret Key Rate: R = 0.1","d":10,"v":0.0095},
      {"p":4,"m":"256-QAM (reg. hex.) | Boltz-Max","t":"Secret Key Rate: R = 0.1","d":10,"v":0.0093},
      {"p":4,"m":"256-QAM (irreg. hex.) | Boltz-Max","t":"Secret Key Rate: R = 0.1","d":10,"v":0.0088},
      {"p":4,"m":"256-APSK (irreg.) | binomial","t":"Extraction Key Rate: R = 0.1","d":10,"v":0.0031},
      {"p":4,"m":"256-APSK (reg. 32) | binomial","t":"Extraction Key Rate: R = 0.1","d":10,"v":0.00268},
      {"p":4,"m":"256-QAM (conv.) | Boltz-Max","t":"Extraction Key Rate: R = 0.1","d":10,"v":0.0085},
      {"p":4,"m":"256-QAM (reg. hex.) | Boltz-Max","t":"Extraction Key Rate: R = 0.1","d":10,"v":0.0083},
      {"p":4,"m":"256-QAM (irreg. hex.) | Boltz-Max","t":"Extraction Key Rate: R = 0.1","d":10,"v":0.00803}
    ],
    "fer": [
      {"p":1,"d":10,"m":"256-APSK (irreg.) | binomial","R":0.1,"fer":0.847},
      {"p":1,"d":10,"m":"256-APSK (reg. 32) | binomial","R":0.1,"fer":0.859},
      {"p":1,"d":10,"m":"256-QAM (conv.) | Boltz-Max","R":0.1,"fer":0.832},
      {"p":1,"d":10,"m":"256-QAM (reg. hex.) | Boltz-Max","R":0.1,"fer":0.833},
      {"p":1,"d":10,"m":"256-QAM (irreg. hex.) | Boltz-Max","R":0.1,"fer":0.839},
      {"p":1,"d":20,"m":"256-APSK (irreg.) | binomial","R":0.05,"fer":0.934},
      {"p":1,"d":20,"m":"256-APSK (reg. 32) | binomial","R":0.05,"fer":0.935},
      {"p":1,"d":20,"m":"256-QAM (conv.) | Boltz-Max","R":0.05,"fer":0.934},
      {"p":1,"d":20,"m":"256-QAM (reg. hex.) | Boltz-Max","R":0.05,"fer":0.934},
      {"p":1,"d":20,"m":"256-QAM (irreg. hex.) | Boltz-Max","R":0.05,"fer":0.934},
      {"p":1,"d":30,"m":"256-APSK (irreg.) | binomial","R":0.05,"fer":0.94},
      {"p":1,"d":30,"m":"256-APSK (reg. 32) | binomial","R":0.05,"fer":0.94},
      {"p":1,"d":30,"m":"256-QAM (conv.) | Boltz-Max","R":0.05,"fer":0.94},
      {"p":1,"d":30,"m":"256-QAM (reg. hex.) | Boltz-Max","R":0.05,"fer":0.938},
      {"p":1,"d":30,"m":"256-QAM (irreg. hex.) | Boltz-Max","R":0.05,"fer":0.94},
      {"p":1,"d":40,"m":"256-APSK (irreg.) | binomial","R":0.05,"fer":0.956},
      {"p":1,"d":40,"m":"256-APSK (reg. 32) | binomial","R":0.05,"fer":0.956},
      {"p":1,"d":40,"m":"256-QAM (conv.) | Boltz-Max","R":0.05,"fer":0.956},
      {"p":1,"d":40,"m":"256-QAM (reg. hex.) | Boltz-Max","R":0.05,"fer":0.956},
      {"p":1,"d":40,"m":"256-QAM (irreg. hex.) | Boltz-Max","R":0.05,"fer":0.955},
      {"p":2,"d":10,"m":"256-APSK (irreg.) | binomial","R":0.1,"fer":0.702},
      {"p":2,"d":10,"m":"256-APSK (reg. 32) | binomial","R":0.1,"fer":0.711},
      {"p":2,"d":10,"m":"256-QAM (conv.) | Boltz-Max","R":0.1,"fer":0.696},
      {"p":2,"d":10,"m":"256-QAM (reg. hex.) | Boltz-Max","R":0.1,"fer":0.684},
      {"p":2,"d":10,"m":"256-QAM (irreg. hex.) | Boltz-Max","R":0.1,"fer":0.69},
      {"p":2,"d":20,"m":"256-APSK (irreg.) | binomial","R":0.1,"fer":0.564},
      {"p":2,"d":20,"m":"256-APSK (reg. 32) | binomial","R":0.1,"fer":0.571},
      {"p":2,"d":20,"m":"256-QAM (conv.) | Boltz-Max","R":0.1,"fer":0.547},
      {"p":2,"d":20,"m":"256-QAM (reg. hex.) | Boltz-Max","R":0.1,"fer":0.548},
      {"p":2,"d":20,"m":"256-QAM (irreg. hex.) | Boltz-Max","R":0.1,"fer":0.552},
      {"p":3,"d":10,"m":"256-APSK (irreg.) | binomial","R":0.1,"fer":0.232},
      {"p":3,"d":10,"m":"256-APSK (reg. 32) | binomial","R":0.1,"fer":0.24},
      {"p":3,"d":10,"m":"256-QAM (conv.) | Boltz-Max","R":0.1,"fer":0.216},
      {"p":3,"d":10,"m":"256-QAM (reg. hex.) | Boltz-Max","R":0.1,"fer":0.223},
      {"p":3,"d":10,"m":"256-QAM (irreg. hex.) | Boltz-Max","R":0.1,"fer":0.219},
      {"p":4,"d":10,"m":"256-APSK (irreg.) | binomial","R":0.1,"fer":0.0364},
      {"p":4,"d":10,"m":"256-APSK (reg. 32) | binomial","R":0.1,"fer":0.0346},
      {"p":4,"d":10,"m":"256-QAM (conv.) | Boltz-Max","R":0.1,"fer":0.0389},
      {"p":4,"d":10,"m":"256-QAM (reg. hex.) | Boltz-Max","R":0.1,"fer":0.0356},
      {"p":4,"d":10,"m":"256-QAM (irreg. hex.) | Boltz-Max","R":0.1,"fer":0.0352}
    ]
  },
  "resolve": {"legend": {"shape": "independent", "fill": "independent", "color": "independent"}},
  "spacing": 5,
  "hconcat": [
    {
      "spacing": 25.5,
      "resolve": {"legend": {"shape": "independent", "fill": "independent"}},
      "title": {"text": "(a)", "orient": "bottom", "anchor": "middle", "offset": 16},
      "vconcat": [
        {
          "width": 402, "height": 210,
          "layer": [
            {"data": {"name": "curves"}, "transform": [{"filter": "datum.p == 1 && datum.m == 'Gaussian Modulation'"}],
             "mark": {"type": "line", "color": "black", "strokeWidth": 3.6, "clip": true},
             "encoding": {
               "x": {"field": "d", "type": "quantitative", "scale": {"domain": [0, 50], "nice": false, "zero": false}, "axis": {"orient": "bottom", "values": [0,10,20,30,40,50], "labels": false, "title": null, "tickSize": -5, "grid": true, "gridColor": "#dedede"}},
               "y": {"field": "v", "type": "quantitative", "scale": {"type": "log", "domain": [0.00001, 0.1], "nice": false}, "axis": {"orient": "left", "values": [0.0001, 0.01], "labelExpr": "datum.value < 0.001 ? '10⁻⁴' : '10⁻²'", "tickSize": -5, "labelPadding": 11.5, "grid": true, "gridColor": "#dedede", "title": ["Key Rate", "(bits/symbol)"], "titlePadding": 4, "titleLineHeight": 28}},
               "strokeDash": {"field": "s", "type": "nominal", "scale": {"domain": ["solid", "dashed"], "range": [[1, 0], [7, 4]]}, "legend": null},
               "order": {"field": "d", "type": "quantitative"}}},
            {"data": {"name": "curves"}, "transform": [{"filter": "datum.p == 1 && datum.m != 'Gaussian Modulation'"}],
             "mark": {"type": "line", "strokeWidth": 1.8, "clip": true},
             "encoding": {
               "x": {"field": "d", "type": "quantitative", "scale": {"domain": [0, 50], "nice": false, "zero": false}, "axis": {"orient": "bottom", "values": [2,4,6,8,12,14,16,18,22,24,26,28,32,34,36,38,42,44,46,48], "labels": false, "ticks": false, "title": null, "grid": true, "gridColor": "#cfcfcf", "gridDash": [1, 2]}},
               "y": {"field": "v", "type": "quantitative", "scale": {"type": "log", "domain": [0.00001, 0.1], "nice": false}, "axis": {"orient": "left", "values": [0.00002,0.00003,0.00004,0.00005,0.00006,0.00007,0.00008,0.00009,0.0002,0.0003,0.0004,0.0005,0.0006,0.0007,0.0008,0.0009,0.001,0.002,0.003,0.004,0.005,0.006,0.007,0.008,0.009,0.02,0.03,0.04,0.05,0.06,0.07,0.08,0.09], "labels": false, "tickSize": -3, "title": null, "grid": true, "gridColor": "#cfcfcf", "gridDash": [1, 2]}},
               "stroke": {"field": "m", "type": "nominal", "scale": {"domain": ["256-APSK (irreg.) | binomial","256-APSK (reg. 32) | binomial","256-QAM (conv.) | Boltz-Max","256-QAM (reg. hex.) | Boltz-Max","256-QAM (irreg. hex.) | Boltz-Max"], "range": ["#9a1a6e","#c5614a","#edb120","#777d48","#05466f"]}, "legend": null},
               "strokeDash": {"field": "s", "type": "nominal", "scale": {"domain": ["solid", "dashed"], "range": [[1, 0], [7, 4]]}, "legend": null},
               "order": {"field": "d", "type": "quantitative"}}},
            {"data": {"name": "pts"}, "transform": [{"filter": "datum.p == 1 && indexof(datum.t, 'Secret') == 0"}],
             "mark": {"type": "point", "filled": false, "strokeWidth": 2, "opacity": 1},
             "encoding": {
               "x": {"field": "d", "type": "quantitative", "scale": {"domain": [0, 50], "nice": false, "zero": false}, "axis": {"orient": "top", "values": [0,10,20,30,40,50], "labels": false, "title": null, "tickSize": -5, "grid": false}},
               "y": {"field": "v", "type": "quantitative", "scale": {"type": "log", "domain": [0.00001, 0.1], "nice": false}, "axis": {"orient": "right", "values": [0.0001, 0.01], "labels": false, "title": null, "tickSize": -5, "grid": false}},
               "stroke": {"field": "m", "type": "nominal", "legend": null},
               "shape": {"condition": {"test": "indexof(datum.t, '0.05') > 0", "value": "triangle-up"}, "value": "circle"},
               "size": {"condition": {"test": "indexof(datum.t, '0.05') > 0", "value": 210}, "value": 130}}},
            {"data": {"name": "pts"}, "transform": [{"filter": "datum.p == 1 && indexof(datum.t, 'Extraction') == 0"}],
             "mark": {"type": "point", "filled": true, "opacity": 1},
             "encoding": {
               "x": {"field": "d", "type": "quantitative", "scale": {"domain": [0, 50], "nice": false, "zero": false}, "axis": null},
               "y": {"field": "v", "type": "quantitative", "scale": {"type": "log", "domain": [0.00001, 0.1], "nice": false}, "axis": {"orient": "right", "values": [0.00002,0.00003,0.00004,0.00005,0.00006,0.00007,0.00008,0.00009,0.0002,0.0003,0.0004,0.0005,0.0006,0.0007,0.0008,0.0009,0.001,0.002,0.003,0.004,0.005,0.006,0.007,0.008,0.009,0.02,0.03,0.04,0.05,0.06,0.07,0.08,0.09], "labels": false, "title": null, "tickSize": -3, "grid": false}},
               "color": {"field": "m", "type": "nominal", "scale": {"domain": ["256-APSK (irreg.) | binomial","256-APSK (reg. 32) | binomial","256-QAM (conv.) | Boltz-Max","256-QAM (reg. hex.) | Boltz-Max","256-QAM (irreg. hex.) | Boltz-Max"], "range": ["#9a1a6e","#c5614a","#edb120","#777d48","#05466f"]}, "legend": null},
               "shape": {"condition": {"test": "indexof(datum.t, '0.05') > 0", "value": "triangle-up"}, "value": "circle"},
               "size": {"condition": {"test": "indexof(datum.t, '0.05') > 0", "value": 220}, "value": 150}}},
            {"data": {"name": "pts"}, "transform": [{"filter": "datum.p == 0"}],
             "mark": {"type": "point", "filled": true, "strokeWidth": 0},
             "encoding": {
               "x": {"field": "d", "type": "quantitative", "scale": {"domain": [0, 50], "nice": false, "zero": false}, "axis": null},
               "y": {"field": "v", "type": "quantitative", "scale": {"type": "log", "domain": [0.00001, 0.1], "nice": false}, "axis": null},
               "shape": {"field": "t", "type": "nominal", "scale": {"domain": ["Secret Key Rate: R = 0.05", "Secret Key Rate: R = 0.1", "Extraction Key Rate: R = 0.05", "Extraction Key Rate: R = 0.1", "Gaussian Modulation"], "range": [
                   "M-2.2,-0.1H-1.2V0.1H-2.2ZM1.2,-0.1H2.2V0.1H1.2ZM0,-0.8L0.85,0.68L-0.85,0.68ZM0,-0.455L-0.553,0.507L0.553,0.507Z",
                   "M-2.2,-0.1H-0.72V0.1H-2.2ZM0.72,-0.1H2.2V0.1H0.72ZM0.72,0A0.72,0.72,0,1,1,-0.72,0A0.72,0.72,0,1,1,0.72,0ZM0.52,0A0.52,0.52,0,1,0,-0.52,0A0.52,0.52,0,1,0,0.52,0Z",
                   "M0,-0.75L0.8,0.65L-0.8,0.65Z",
                   "M0.6,0A0.6,0.6,0,1,1,-0.6,0A0.6,0.6,0,1,1,0.6,0Z",
                   "M-2.3,-0.85H2.3V0.85H-2.3Z"]},
                 "legend": {"title": null, "orient": "none", "legendX": 153, "legendY": -164, "symbolSize": 400, "symbolStrokeWidth": 0, "symbolOpacity": 1, "symbolOffset": 11, "labelOffset": 20, "rowPadding": 5, "labelLimit": 0, "labelFontSize": 19.5}},
               "fill": {"field": "t", "type": "nominal", "scale": {"domain": ["Secret Key Rate: R = 0.05", "Secret Key Rate: R = 0.1", "Extraction Key Rate: R = 0.05", "Extraction Key Rate: R = 0.1", "Gaussian Modulation"], "range": ["black", "black", "black", "black", "black"]},
                 "legend": {"title": null, "orient": "none", "legendX": 153, "legendY": -164, "symbolSize": 400, "symbolStrokeWidth": 0, "symbolOpacity": 1, "symbolOffset": 11, "labelOffset": 20, "rowPadding": 5, "labelLimit": 0, "labelFontSize": 19.5}}}}
          ],
          "resolve": {"axis": {"x": "independent", "y": "independent"}}
        },
        {
          "width": 402, "height": 210,
          "layer": [
            {"data": {"name": "curves"}, "transform": [{"filter": "datum.p == 2 && datum.m == 'Gaussian Modulation'"}],
             "mark": {"type": "line", "color": "black", "strokeWidth": 3.6, "clip": true},
             "encoding": {
               "x": {"field": "d", "type": "quantitative", "scale": {"domain": [0, 50], "nice": false, "zero": false}, "axis": {"orient": "bottom", "values": [0,10,20,30,40,50], "labels": false, "title": null, "tickSize": -5, "grid": true, "gridColor": "#dedede"}},
               "y": {"field": "v", "type": "quantitative", "scale": {"type": "log", "domain": [0.00001, 0.1], "nice": false}, "axis": {"orient": "left", "values": [0.0001, 0.01], "labelExpr": "datum.value < 0.001 ? '10⁻⁴' : '10⁻²'", "tickSize": -5, "labelPadding": 11.5, "grid": true, "gridColor": "#dedede", "title": ["Key Rate", "(bits/symbol)"], "titlePadding": 4, "titleLineHeight": 28}},
               "strokeDash": {"field": "s", "type": "nominal", "scale": {"domain": ["solid", "dashed"], "range": [[1, 0], [7, 4]]}, "legend": null},
               "order": {"field": "d", "type": "quantitative"}}},
            {"data": {"name": "curves"}, "transform": [{"filter": "datum.p == 2 && datum.m != 'Gaussian Modulation'"}],
             "mark": {"type": "line", "strokeWidth": 1.8, "clip": true},
             "encoding": {
               "x": {"field": "d", "type": "quantitative", "scale": {"domain": [0, 50], "nice": false, "zero": false}, "axis": {"orient": "bottom", "values": [2,4,6,8,12,14,16,18,22,24,26,28,32,34,36,38,42,44,46,48], "labels": false, "ticks": false, "title": null, "grid": true, "gridColor": "#cfcfcf", "gridDash": [1, 2]}},
               "y": {"field": "v", "type": "quantitative", "scale": {"type": "log", "domain": [0.00001, 0.1], "nice": false}, "axis": {"orient": "left", "values": [0.00002,0.00003,0.00004,0.00005,0.00006,0.00007,0.00008,0.00009,0.0002,0.0003,0.0004,0.0005,0.0006,0.0007,0.0008,0.0009,0.001,0.002,0.003,0.004,0.005,0.006,0.007,0.008,0.009,0.02,0.03,0.04,0.05,0.06,0.07,0.08,0.09], "labels": false, "tickSize": -3, "title": null, "grid": true, "gridColor": "#cfcfcf", "gridDash": [1, 2]}},
               "stroke": {"field": "m", "type": "nominal", "legend": null},
               "strokeDash": {"field": "s", "type": "nominal", "scale": {"domain": ["solid", "dashed"], "range": [[1, 0], [7, 4]]}, "legend": null},
               "order": {"field": "d", "type": "quantitative"}}},
            {"data": {"name": "pts"}, "transform": [{"filter": "datum.p == 2 && indexof(datum.t, 'Secret') == 0"}],
             "mark": {"type": "point", "filled": false, "strokeWidth": 2, "opacity": 1},
             "encoding": {
               "x": {"field": "d", "type": "quantitative", "scale": {"domain": [0, 50], "nice": false, "zero": false}, "axis": {"orient": "top", "values": [0,10,20,30,40,50], "labels": false, "title": null, "tickSize": -5, "grid": false}},
               "y": {"field": "v", "type": "quantitative", "scale": {"type": "log", "domain": [0.00001, 0.1], "nice": false}, "axis": {"orient": "right", "values": [0.0001, 0.01], "labels": false, "title": null, "tickSize": -5, "grid": false}},
               "stroke": {"field": "m", "type": "nominal", "legend": null},
               "shape": {"condition": {"test": "indexof(datum.t, '0.05') > 0", "value": "triangle-up"}, "value": "circle"},
               "size": {"condition": {"test": "indexof(datum.t, '0.05') > 0", "value": 210}, "value": 130}}},
            {"data": {"name": "pts"}, "transform": [{"filter": "datum.p == 2 && indexof(datum.t, 'Extraction') == 0"}],
             "mark": {"type": "point", "filled": true, "opacity": 1},
             "encoding": {
               "x": {"field": "d", "type": "quantitative", "scale": {"domain": [0, 50], "nice": false, "zero": false}, "axis": null},
               "y": {"field": "v", "type": "quantitative", "scale": {"type": "log", "domain": [0.00001, 0.1], "nice": false}, "axis": {"orient": "right", "values": [0.00002,0.00003,0.00004,0.00005,0.00006,0.00007,0.00008,0.00009,0.0002,0.0003,0.0004,0.0005,0.0006,0.0007,0.0008,0.0009,0.001,0.002,0.003,0.004,0.005,0.006,0.007,0.008,0.009,0.02,0.03,0.04,0.05,0.06,0.07,0.08,0.09], "labels": false, "title": null, "tickSize": -3, "grid": false}},
               "color": {"field": "m", "type": "nominal", "legend": null},
               "shape": {"condition": {"test": "indexof(datum.t, '0.05') > 0", "value": "triangle-up"}, "value": "circle"},
               "size": {"condition": {"test": "indexof(datum.t, '0.05') > 0", "value": 220}, "value": 150}}}
          ],
          "resolve": {"axis": {"x": "independent", "y": "independent"}}
        },
        {
          "width": 402, "height": 210,
          "layer": [
            {"data": {"name": "curves"}, "transform": [{"filter": "datum.p == 3 && datum.m == 'Gaussian Modulation'"}],
             "mark": {"type": "line", "color": "black", "strokeWidth": 3.6, "clip": true},
             "encoding": {
               "x": {"field": "d", "type": "quantitative", "scale": {"domain": [0, 50], "nice": false, "zero": false}, "axis": {"orient": "bottom", "values": [0,10,20,30,40,50], "labels": false, "title": null, "tickSize": -5, "grid": true, "gridColor": "#dedede"}},
               "y": {"field": "v", "type": "quantitative", "scale": {"type": "log", "domain": [0.00001, 0.1], "nice": false}, "axis": {"orient": "left", "values": [0.0001, 0.01], "labelExpr": "datum.value < 0.001 ? '10⁻⁴' : '10⁻²'", "tickSize": -5, "labelPadding": 11.5, "grid": true, "gridColor": "#dedede", "title": ["Key Rate", "(bits/symbol)"], "titlePadding": 4, "titleLineHeight": 28}},
               "strokeDash": {"field": "s", "type": "nominal", "scale": {"domain": ["solid", "dashed"], "range": [[1, 0], [7, 4]]}, "legend": null},
               "order": {"field": "d", "type": "quantitative"}}},
            {"data": {"name": "curves"}, "transform": [{"filter": "datum.p == 3 && datum.m != 'Gaussian Modulation'"}],
             "mark": {"type": "line", "strokeWidth": 1.8, "clip": true},
             "encoding": {
               "x": {"field": "d", "type": "quantitative", "scale": {"domain": [0, 50], "nice": false, "zero": false}, "axis": {"orient": "bottom", "values": [2,4,6,8,12,14,16,18,22,24,26,28,32,34,36,38,42,44,46,48], "labels": false, "ticks": false, "title": null, "grid": true, "gridColor": "#cfcfcf", "gridDash": [1, 2]}},
               "y": {"field": "v", "type": "quantitative", "scale": {"type": "log", "domain": [0.00001, 0.1], "nice": false}, "axis": {"orient": "left", "values": [0.00002,0.00003,0.00004,0.00005,0.00006,0.00007,0.00008,0.00009,0.0002,0.0003,0.0004,0.0005,0.0006,0.0007,0.0008,0.0009,0.001,0.002,0.003,0.004,0.005,0.006,0.007,0.008,0.009,0.02,0.03,0.04,0.05,0.06,0.07,0.08,0.09], "labels": false, "tickSize": -3, "title": null, "grid": true, "gridColor": "#cfcfcf", "gridDash": [1, 2]}},
               "stroke": {"field": "m", "type": "nominal", "legend": null},
               "strokeDash": {"field": "s", "type": "nominal", "scale": {"domain": ["solid", "dashed"], "range": [[1, 0], [7, 4]]}, "legend": null},
               "order": {"field": "d", "type": "quantitative"}}},
            {"data": {"name": "pts"}, "transform": [{"filter": "datum.p == 3 && indexof(datum.t, 'Secret') == 0"}],
             "mark": {"type": "point", "filled": false, "strokeWidth": 2, "opacity": 1},
             "encoding": {
               "x": {"field": "d", "type": "quantitative", "scale": {"domain": [0, 50], "nice": false, "zero": false}, "axis": {"orient": "top", "values": [0,10,20,30,40,50], "labels": false, "title": null, "tickSize": -5, "grid": false}},
               "y": {"field": "v", "type": "quantitative", "scale": {"type": "log", "domain": [0.00001, 0.1], "nice": false}, "axis": {"orient": "right", "values": [0.0001, 0.01], "labels": false, "title": null, "tickSize": -5, "grid": false}},
               "stroke": {"field": "m", "type": "nominal", "legend": null},
               "shape": {"condition": {"test": "indexof(datum.t, '0.05') > 0", "value": "triangle-up"}, "value": "circle"},
               "size": {"condition": {"test": "indexof(datum.t, '0.05') > 0", "value": 210}, "value": 130}}},
            {"data": {"name": "pts"}, "transform": [{"filter": "datum.p == 3 && indexof(datum.t, 'Extraction') == 0"}],
             "mark": {"type": "point", "filled": true, "opacity": 1},
             "encoding": {
               "x": {"field": "d", "type": "quantitative", "scale": {"domain": [0, 50], "nice": false, "zero": false}, "axis": null},
               "y": {"field": "v", "type": "quantitative", "scale": {"type": "log", "domain": [0.00001, 0.1], "nice": false}, "axis": {"orient": "right", "values": [0.00002,0.00003,0.00004,0.00005,0.00006,0.00007,0.00008,0.00009,0.0002,0.0003,0.0004,0.0005,0.0006,0.0007,0.0008,0.0009,0.001,0.002,0.003,0.004,0.005,0.006,0.007,0.008,0.009,0.02,0.03,0.04,0.05,0.06,0.07,0.08,0.09], "labels": false, "title": null, "tickSize": -3, "grid": false}},
               "color": {"field": "m", "type": "nominal", "legend": null},
               "shape": {"condition": {"test": "indexof(datum.t, '0.05') > 0", "value": "triangle-up"}, "value": "circle"},
               "size": {"condition": {"test": "indexof(datum.t, '0.05') > 0", "value": 220}, "value": 150}}}
          ],
          "resolve": {"axis": {"x": "independent", "y": "independent"}}
        },
        {
          "width": 402, "height": 210,
          "layer": [
            {"data": {"name": "curves"}, "transform": [{"filter": "datum.p == 4 && datum.m == 'Gaussian Modulation'"}],
             "mark": {"type": "line", "color": "black", "strokeWidth": 3.6, "clip": true},
             "encoding": {
               "x": {"field": "d", "type": "quantitative", "scale": {"domain": [0, 50], "nice": false, "zero": false}, "axis": {"orient": "bottom", "values": [0,10,20,30,40,50], "format": "d", "labelPadding": 15, "title": "Transmission Distance (km)", "titlePadding": 12, "tickSize": -5, "grid": true, "gridColor": "#dedede"}},
               "y": {"field": "v", "type": "quantitative", "scale": {"type": "log", "domain": [0.00001, 0.1], "nice": false}, "axis": {"orient": "left", "values": [0.0001, 0.01], "labelExpr": "datum.value < 0.001 ? '10⁻⁴' : '10⁻²'", "tickSize": -5, "labelPadding": 11.5, "grid": true, "gridColor": "#dedede", "title": ["Key Rate", "(bits/symbol)"], "titlePadding": 4, "titleLineHeight": 28}},
               "strokeDash": {"field": "s", "type": "nominal", "scale": {"domain": ["solid", "dashed"], "range": [[1, 0], [7, 4]]}, "legend": null},
               "order": {"field": "d", "type": "quantitative"}}},
            {"data": {"name": "curves"}, "transform": [{"filter": "datum.p == 4 && datum.m != 'Gaussian Modulation'"}],
             "mark": {"type": "line", "strokeWidth": 1.8, "clip": true},
             "encoding": {
               "x": {"field": "d", "type": "quantitative", "scale": {"domain": [0, 50], "nice": false, "zero": false}, "axis": {"orient": "bottom", "values": [2,4,6,8,12,14,16,18,22,24,26,28,32,34,36,38,42,44,46,48], "labels": false, "ticks": false, "title": null, "grid": true, "gridColor": "#cfcfcf", "gridDash": [1, 2]}},
               "y": {"field": "v", "type": "quantitative", "scale": {"type": "log", "domain": [0.00001, 0.1], "nice": false}, "axis": {"orient": "left", "values": [0.00002,0.00003,0.00004,0.00005,0.00006,0.00007,0.00008,0.00009,0.0002,0.0003,0.0004,0.0005,0.0006,0.0007,0.0008,0.0009,0.001,0.002,0.003,0.004,0.005,0.006,0.007,0.008,0.009,0.02,0.03,0.04,0.05,0.06,0.07,0.08,0.09], "labels": false, "tickSize": -3, "title": null, "grid": true, "gridColor": "#cfcfcf", "gridDash": [1, 2]}},
               "stroke": {"field": "m", "type": "nominal", "legend": null},
               "strokeDash": {"field": "s", "type": "nominal", "scale": {"domain": ["solid", "dashed"], "range": [[1, 0], [7, 4]]}, "legend": null},
               "order": {"field": "d", "type": "quantitative"}}},
            {"data": {"name": "pts"}, "transform": [{"filter": "datum.p == 4 && indexof(datum.t, 'Secret') == 0"}],
             "mark": {"type": "point", "filled": false, "strokeWidth": 2, "opacity": 1},
             "encoding": {
               "x": {"field": "d", "type": "quantitative", "scale": {"domain": [0, 50], "nice": false, "zero": false}, "axis": {"orient": "top", "values": [0,10,20,30,40,50], "labels": false, "title": null, "tickSize": -5, "grid": false}},
               "y": {"field": "v", "type": "quantitative", "scale": {"type": "log", "domain": [0.00001, 0.1], "nice": false}, "axis": {"orient": "right", "values": [0.0001, 0.01], "labels": false, "title": null, "tickSize": -5, "grid": false}},
               "stroke": {"field": "m", "type": "nominal", "legend": null},
               "shape": {"condition": {"test": "indexof(datum.t, '0.05') > 0", "value": "triangle-up"}, "value": "circle"},
               "size": {"condition": {"test": "indexof(datum.t, '0.05') > 0", "value": 210}, "value": 130}}},
            {"data": {"name": "pts"}, "transform": [{"filter": "datum.p == 4 && indexof(datum.t, 'Extraction') == 0"}],
             "mark": {"type": "point", "filled": true, "opacity": 1},
             "encoding": {
               "x": {"field": "d", "type": "quantitative", "scale": {"domain": [0, 50], "nice": false, "zero": false}, "axis": null},
               "y": {"field": "v", "type": "quantitative", "scale": {"type": "log", "domain": [0.00001, 0.1], "nice": false}, "axis": {"orient": "right", "values": [0.00002,0.00003,0.00004,0.00005,0.00006,0.00007,0.00008,0.00009,0.0002,0.0003,0.0004,0.0005,0.0006,0.0007,0.0008,0.0009,0.001,0.002,0.003,0.004,0.005,0.006,0.007,0.008,0.009,0.02,0.03,0.04,0.05,0.06,0.07,0.08,0.09], "labels": false, "title": null, "tickSize": -3, "grid": false}},
               "color": {"field": "m", "type": "nominal", "legend": null},
               "shape": {"condition": {"test": "indexof(datum.t, '0.05') > 0", "value": "triangle-up"}, "value": "circle"},
               "size": {"condition": {"test": "indexof(datum.t, '0.05') > 0", "value": 220}, "value": 150}}}
          ],
          "resolve": {"axis": {"x": "independent", "y": "independent"}}
        }
      ]
    },
    {
      "spacing": 4,
      "resolve": {"legend": {"color": "independent"}},
      "title": {"text": "(b)", "orient": "bottom", "anchor": "middle", "offset": 16},
      "vconcat": [
        {
          "width": 450, "height": 209.75,
          "data": {"name": "fer"},
          "transform": [{"filter": "datum.p == 1"}, {"calculate": "datum.fer + ' (R = ' + datum.R + ')'", "as": "lab"}],
          "layer": [
            {"mark": {"type": "bar", "stroke": "black", "strokeWidth": 1.5, "opacity": 1},
             "encoding": {
               "x": {"field": "d", "type": "ordinal", "scale": {"domain": [10, 20, 30, 40], "paddingInner": 0.244, "paddingOuter": 0.122}, "axis": {"orient": "bottom", "labels": false, "title": null, "tickSize": -5}},
               "xOffset": {"field": "m", "type": "nominal", "scale": {"domain": ["256-APSK (irreg.) | binomial","256-APSK (reg. 32) | binomial","256-QAM (conv.) | Boltz-Max","256-QAM (reg. hex.) | Boltz-Max","256-QAM (irreg. hex.) | Boltz-Max"], "paddingInner": 0.16, "paddingOuter": 0}},
               "y": {"field": "fer", "type": "quantitative", "scale": {"domain": [0, 1], "nice": false}, "axis": {"orient": "left", "values": [0, 0.5, 1], "format": "~g", "tickSize": -5, "labelPadding": 15, "title": "Frame Error Rate", "titlePadding": 6}},
               "color": {"field": "m", "type": "nominal",
                 "legend": {"title": null, "orient": "none", "legendX": -93, "legendY": -163, "symbolType": "M-1.85,-1H1.85V1H-1.85Z", "symbolSize": 400, "symbolStrokeColor": "black", "symbolStrokeWidth": 1.5, "symbolOpacity": 1, "symbolOffset": 7.5, "labelOffset": 9, "rowPadding": -1, "labelLimit": 0, "labelFontSize": 19.5}}}},
            {"mark": {"type": "text", "angle": 270, "align": "right", "baseline": "middle", "dx": -3, "fontSize": 16, "fontWeight": "bold", "font": "Liberation Sans", "color": "white"},
             "encoding": {
               "x": {"field": "d", "type": "ordinal", "scale": {"domain": [10, 20, 30, 40], "paddingInner": 0.244, "paddingOuter": 0.122}, "axis": {"orient": "top", "labels": false, "title": null, "tickSize": -5}},
               "xOffset": {"field": "m", "type": "nominal", "scale": {"domain": ["256-APSK (irreg.) | binomial","256-APSK (reg. 32) | binomial","256-QAM (conv.) | Boltz-Max","256-QAM (reg. hex.) | Boltz-Max","256-QAM (irreg. hex.) | Boltz-Max"], "paddingInner": 0.16, "paddingOuter": 0}},
               "y": {"field": "fer", "type": "quantitative", "scale": {"domain": [0, 1], "nice": false}, "axis": {"orient": "left", "values": [0, 0.5, 1], "format": "~g", "tickSize": -5, "labelPadding": 15, "title": "Frame Error Rate", "titlePadding": 6}},
               "text": {"field": "lab", "type": "nominal"}}}
          ],
          "resolve": {"axis": {"x": "independent"}}
        },
        {
          "width": 450, "height": 209.75,
          "data": {"name": "fer"},
          "transform": [{"filter": "datum.p == 2"}, {"calculate": "datum.fer + ' (R = ' + datum.R + ')'", "as": "lab"}],
          "layer": [
            {"mark": {"type": "bar", "stroke": "black", "strokeWidth": 1.5, "opacity": 1},
             "encoding": {
               "x": {"field": "d", "type": "ordinal", "scale": {"domain": [10, 20, 30, 40], "paddingInner": 0.244, "paddingOuter": 0.122}, "axis": {"orient": "bottom", "labels": false, "title": null, "tickSize": -5}},
               "xOffset": {"field": "m", "type": "nominal", "scale": {"domain": ["256-APSK (irreg.) | binomial","256-APSK (reg. 32) | binomial","256-QAM (conv.) | Boltz-Max","256-QAM (reg. hex.) | Boltz-Max","256-QAM (irreg. hex.) | Boltz-Max"], "paddingInner": 0.16, "paddingOuter": 0}},
               "y": {"field": "fer", "type": "quantitative", "scale": {"domain": [0, 1], "nice": false}, "axis": {"orient": "left", "values": [0, 0.5, 1], "format": "~g", "tickSize": -5, "labelPadding": 15, "title": "Frame Error Rate", "titlePadding": 6}},
               "color": {"field": "m", "type": "nominal", "legend": null}}},
            {"mark": {"type": "text", "angle": 270, "align": "left", "baseline": "middle", "dx": 0, "fontSize": 16, "fontWeight": "bold", "font": "Liberation Sans", "color": "white"},
             "encoding": {
               "x": {"field": "d", "type": "ordinal", "scale": {"domain": [10, 20, 30, 40], "paddingInner": 0.244, "paddingOuter": 0.122}, "axis": {"orient": "top", "labels": false, "title": null, "tickSize": -5}},
               "xOffset": {"field": "m", "type": "nominal", "scale": {"domain": ["256-APSK (irreg.) | binomial","256-APSK (reg. 32) | binomial","256-QAM (conv.) | Boltz-Max","256-QAM (reg. hex.) | Boltz-Max","256-QAM (irreg. hex.) | Boltz-Max"], "paddingInner": 0.16, "paddingOuter": 0}},
               "y": {"datum": 0, "type": "quantitative", "scale": {"domain": [0, 1], "nice": false}, "axis": {"orient": "left", "values": [0, 0.5, 1], "format": "~g", "tickSize": -5, "labelPadding": 15, "title": "Frame Error Rate", "titlePadding": 6}},
               "text": {"field": "lab", "type": "nominal"}}}
          ],
          "resolve": {"axis": {"x": "independent"}}
        },
        {
          "width": 450, "height": 209.75,
          "data": {"name": "fer"},
          "transform": [{"filter": "datum.p == 3"}, {"calculate": "datum.fer + ' (R = ' + datum.R + ')'", "as": "lab"}],
          "layer": [
            {"mark": {"type": "bar", "stroke": "black", "strokeWidth": 1.5, "opacity": 1},
             "encoding": {
               "x": {"field": "d", "type": "ordinal", "scale": {"domain": [10, 20, 30, 40], "paddingInner": 0.244, "paddingOuter": 0.122}, "axis": {"orient": "bottom", "labels": false, "title": null, "tickSize": -5}},
               "xOffset": {"field": "m", "type": "nominal", "scale": {"domain": ["256-APSK (irreg.) | binomial","256-APSK (reg. 32) | binomial","256-QAM (conv.) | Boltz-Max","256-QAM (reg. hex.) | Boltz-Max","256-QAM (irreg. hex.) | Boltz-Max"], "paddingInner": 0.16, "paddingOuter": 0}},
               "y": {"field": "fer", "type": "quantitative", "scale": {"domain": [0, 1], "nice": false}, "axis": {"orient": "left", "values": [0, 0.5, 1], "format": "~g", "tickSize": -5, "labelPadding": 15, "title": "Frame Error Rate", "titlePadding": 6}},
               "color": {"field": "m", "type": "nominal", "legend": null}}},
            {"mark": {"type": "text", "angle": 270, "align": "left", "baseline": "middle", "dx": 7, "fontSize": 16, "fontWeight": "bold", "font": "Liberation Sans", "color": "black"},
             "encoding": {
               "x": {"field": "d", "type": "ordinal", "scale": {"domain": [10, 20, 30, 40], "paddingInner": 0.244, "paddingOuter": 0.122}, "axis": {"orient": "top", "labels": false, "title": null, "tickSize": -5}},
               "xOffset": {"field": "m", "type": "nominal", "scale": {"domain": ["256-APSK (irreg.) | binomial","256-APSK (reg. 32) | binomial","256-QAM (conv.) | Boltz-Max","256-QAM (reg. hex.) | Boltz-Max","256-QAM (irreg. hex.) | Boltz-Max"], "paddingInner": 0.16, "paddingOuter": 0}},
               "y": {"field": "fer", "type": "quantitative", "scale": {"domain": [0, 1], "nice": false}, "axis": {"orient": "left", "values": [0, 0.5, 1], "format": "~g", "tickSize": -5, "labelPadding": 15, "title": "Frame Error Rate", "titlePadding": 6}},
               "text": {"field": "lab", "type": "nominal"}}}
          ],
          "resolve": {"axis": {"x": "independent"}}
        },
        {
          "width": 450, "height": 209.75,
          "data": {"name": "fer"},
          "transform": [{"filter": "datum.p == 4"}, {"calculate": "datum.fer + ' (R = ' + datum.R + ')'", "as": "lab"}],
          "layer": [
            {"mark": {"type": "bar", "stroke": "black", "strokeWidth": 1.5, "opacity": 1},
             "encoding": {
               "x": {"field": "d", "type": "ordinal", "scale": {"domain": [10, 20, 30, 40], "paddingInner": 0.244, "paddingOuter": 0.122}, "axis": {"orient": "bottom", "labelAngle": 0, "labelPadding": 18, "title": "Transmission Distance (km)", "titlePadding": 12, "tickSize": -5}},
               "xOffset": {"field": "m", "type": "nominal", "scale": {"domain": ["256-APSK (irreg.) | binomial","256-APSK (reg. 32) | binomial","256-QAM (conv.) | Boltz-Max","256-QAM (reg. hex.) | Boltz-Max","256-QAM (irreg. hex.) | Boltz-Max"], "paddingInner": 0.16, "paddingOuter": 0}},
               "y": {"field": "fer", "type": "quantitative", "scale": {"domain": [0, 1], "nice": false}, "axis": {"orient": "left", "values": [0, 0.5, 1], "format": "~g", "tickSize": -5, "labelPadding": 15, "title": "Frame Error Rate", "titlePadding": 6}},
               "color": {"field": "m", "type": "nominal", "legend": null}}},
            {"mark": {"type": "text", "angle": 270, "align": "left", "baseline": "middle", "dx": 7, "fontSize": 16, "fontWeight": "bold", "font": "Liberation Sans", "color": "black"},
             "encoding": {
               "x": {"field": "d", "type": "ordinal", "scale": {"domain": [10, 20, 30, 40], "paddingInner": 0.244, "paddingOuter": 0.122}, "axis": {"orient": "top", "labels": false, "title": null, "tickSize": -5}},
               "xOffset": {"field": "m", "type": "nominal", "scale": {"domain": ["256-APSK (irreg.) | binomial","256-APSK (reg. 32) | binomial","256-QAM (conv.) | Boltz-Max","256-QAM (reg. hex.) | Boltz-Max","256-QAM (irreg. hex.) | Boltz-Max"], "paddingInner": 0.16, "paddingOuter": 0}},
               "y": {"field": "fer", "type": "quantitative", "scale": {"domain": [0, 1], "nice": false}, "axis": {"orient": "left", "values": [0, 0.5, 1], "format": "~g", "tickSize": -5, "labelPadding": 15, "title": "Frame Error Rate", "titlePadding": 6}},
               "text": {"field": "lab", "type": "nominal"}}}
          ],
          "resolve": {"axis": {"x": "independent"}}
        }
      ]
    }
  ]
}
